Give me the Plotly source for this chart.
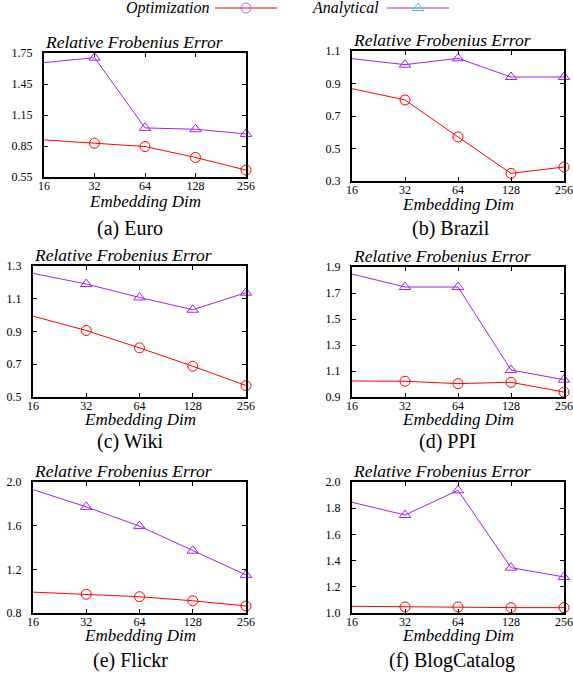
import plotly.graph_objects as go

dims = [16, 32, 64, 128, 256]
dim_labels = ["16", "32", "64", "128", "256"]

panels = ["(a) Euro", "(b) Brazil", "(c) Wiki", "(d) PPI", "(e) Flickr", "(f) BlogCatalog"]

opt_euro = [0.909, 0.877, 0.845, 0.739, 0.617]
ana_euro = [1.657, 1.705, 1.025, 1.012, 0.967]
opt_brazil = [0.868, 0.799, 0.571, 0.347, 0.386]
ana_brazil = [1.053, 1.016, 1.055, 0.940, 0.940]
opt_wiki = [0.994, 0.906, 0.800, 0.688, 0.570]
ana_wiki = [1.255, 1.190, 1.108, 1.033, 1.137]
opt_ppi = [1.023, 1.021, 1.003, 1.013, 0.938]
ana_ppi = [1.846, 1.746, 1.746, 1.108, 1.033]
opt_flickr = [0.991, 0.972, 0.949, 0.912, 0.864]
ana_flickr = [1.930, 1.772, 1.596, 1.371, 1.149]
opt_blog = [1.051, 1.046, 1.046, 1.041, 1.041]
ana_blog = [1.845, 1.748, 1.936, 1.346, 1.275]

opt_all = [opt_euro, opt_brazil, opt_wiki, opt_ppi, opt_flickr, opt_blog]
ana_all = [ana_euro, ana_brazil, ana_wiki, ana_ppi, ana_flickr, ana_blog]

y_ranges = [(0.55, 1.75), (0.3, 1.1), (0.5, 1.3), (0.9, 1.9), (0.8, 2.0), (1.0, 2.0)]
y_dticks = [0.3, 0.2, 0.2, 0.2, 0.4, 0.2]
y_fmt = [".2f", ".1f", ".1f", ".1f", ".1f", ".1f"]

W, H = 573, 677
# plot boxes in pixels: (left, right, top, bottom)
boxes = [(44, 246, 53, 177), (352, 564, 51, 181),
         (33, 246, 266, 397), (352, 564, 267, 397),
         (33, 246, 482, 613), (352, 564, 482, 613)]
caption_x = [130, 451, 130, 447, 130, 452]
caption_y = [228, 228, 441, 441, 660, 660]
axtitle_y = [201, 204, 419, 419, 635, 635]

RED = "#ff0000"
PURPLE = "#a020f0"
SERIF = "Liberation Serif, Times New Roman, serif"

fig = go.Figure()
layout = dict(width=W, height=H, margin=dict(l=0, r=0, t=0, b=0, autoexpand=False),
              paper_bgcolor="white", plot_bgcolor="rgba(0,0,0,0)", showlegend=False)
annotations = []

for i in range(6):
    k = "" if i == 0 else str(i + 1)
    l, r, t, b = boxes[i]
    xd = [l / W, r / W]
    yd = [1 - b / H, 1 - t / H]
    common = dict(showline=True, linecolor="black", linewidth=2, mirror="allticks",
                  ticks="inside", ticklen=4, tickwidth=1, tickcolor="black",
                  showgrid=False, zeroline=False, automargin=False,
                  tickfont=dict(family=SERIF, size=12, color="black"))
    layout["xaxis" + k] = dict(domain=xd, anchor="y" + k, type="log",
                               range=[1.2041199826559248, 2.4082399653118496],
                               tickvals=dims, ticktext=dim_labels, ticklabelstandoff=-3, **common)
    layout["yaxis" + k] = dict(domain=yd, anchor="x" + k, range=list(y_ranges[i]),
                               tick0=y_ranges[i][0], dtick=y_dticks[i],
                               tickformat=y_fmt[i], ticklabelstandoff=7, **common)
    fig.add_trace(go.Scatter(x=dims, y=opt_all[i], xaxis="x" + k, yaxis="y" + k,
                             mode="lines+markers", cliponaxis=False,
                             line=dict(color=RED, width=1),
                             marker=dict(symbol="circle-open", size=10,
                                         line=dict(color=RED, width=1))))
    fig.add_trace(go.Scatter(x=dims, y=ana_all[i], xaxis="x" + k, yaxis="y" + k,
                             mode="lines+markers", cliponaxis=False,
                             line=dict(color=PURPLE, width=1),
                             marker=dict(symbol="triangle-up-open", size=10,
                                         line=dict(color=PURPLE, width=1))))
    annotations.append(dict(text="<i>Relative Frobenius Error</i>", xref="paper", yref="paper",
                            x=(l - 1) / W, y=1 - (t - 11) / H, xanchor="left", yanchor="middle",
                            showarrow=False, font=dict(family=SERIF, size=17.5, color="black")))
    annotations.append(dict(text="<i>Embedding Dim</i>", xref="paper", yref="paper",
                            x=(l + r) / 2 / W, y=1 - axtitle_y[i] / H, xanchor="center", yanchor="middle",
                            showarrow=False, font=dict(family=SERIF, size=17, color="black")))
    annotations.append(dict(text=panels[i], xref="paper", yref="paper",
                            x=caption_x[i] / W, y=1 - caption_y[i] / H, xanchor="center", yanchor="middle",
                            showarrow=False, font=dict(family=SERIF, size=20, color="black")))

# legend (overlay axis in pixel units)
layout["xaxis7"] = dict(domain=[0, 1], range=[0, W], visible=False, anchor="y7",
                        fixedrange=True, automargin=False)
layout["yaxis7"] = dict(domain=[0, 1], range=[H, 0], visible=False, anchor="x7",
                        fixedrange=True, automargin=False)
leg_y = 8
fig.add_trace(go.Scatter(x=[215, 277], y=[leg_y, leg_y], xaxis="x7", yaxis="y7", mode="lines",
                         line=dict(color=RED, width=1), hoverinfo="skip"))
fig.add_trace(go.Scatter(x=[246], y=[leg_y], xaxis="x7", yaxis="y7", mode="markers",
                         marker=dict(symbol="circle-open", size=10, line=dict(color=RED, width=1)),
                         hoverinfo="skip"))
fig.add_trace(go.Scatter(x=[387, 449], y=[leg_y, leg_y], xaxis="x7", yaxis="y7", mode="lines",
                         line=dict(color=PURPLE, width=1), hoverinfo="skip"))
fig.add_trace(go.Scatter(x=[418], y=[leg_y], xaxis="x7", yaxis="y7", mode="markers",
                         marker=dict(symbol="triangle-up-open", size=10, line=dict(color=PURPLE, width=1)),
                         hoverinfo="skip"))
annotations.append(dict(text="<i>Optimization</i>", xref="paper", yref="paper",
                        x=212 / W, y=1 - leg_y / H, xanchor="right", yanchor="middle",
                        showarrow=False, font=dict(family=SERIF, size=16, color="black")))
annotations.append(dict(text="<i>Analytical</i>", xref="paper", yref="paper",
                        x=381 / W, y=1 - leg_y / H, xanchor="right", yanchor="middle",
                        showarrow=False, font=dict(family=SERIF, size=16, color="black")))

layout["annotations"] = annotations
fig.update_layout(**layout)
fig.write_html("out.html", config={"displayModeBar": False},
               post_script="document.body.style.margin='0px';")
